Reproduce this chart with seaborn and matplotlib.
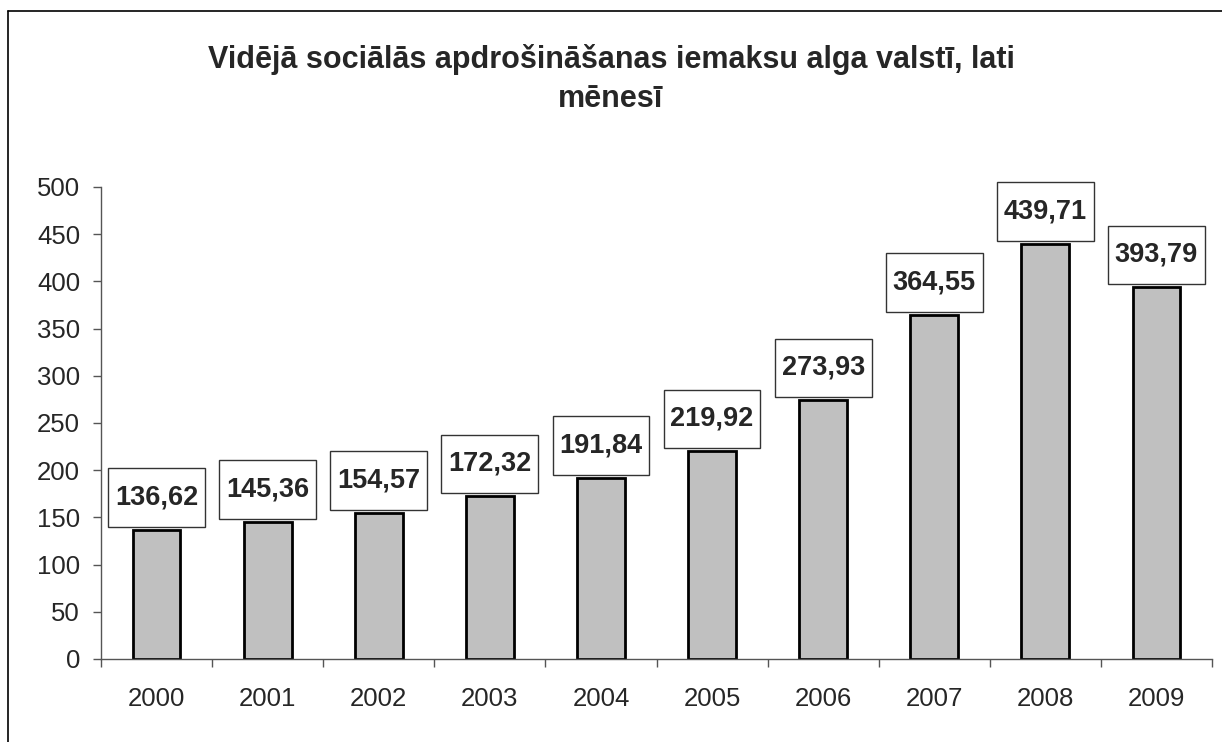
import matplotlib
matplotlib.use("Agg")
import matplotlib.pyplot as plt
import seaborn as sns
from matplotlib.lines import Line2D

# Data
years = ["2000", "2001", "2002", "2003", "2004", "2005", "2006", "2007", "2008", "2009"]
wages = [136.62, 145.36, 154.57, 172.32, 191.84, 219.92, 273.93, 364.55, 439.71, 393.79]
y_ticks = [0, 50, 100, 150, 200, 250, 300, 350, 400, 450, 500]
title = "Vidējā sociālās apdrošināšanas iemaksu alga valstī, lati\nmēnesī"

sns.set_style("white")
plt.rcParams["font.family"] = ["Liberation Sans", "DejaVu Sans"]

fig = plt.figure(figsize=(12.22, 7.42), dpi=100)
ax = fig.add_axes([101 / 1222, 83 / 742, 1111 / 1222, 472 / 742])

sns.barplot(x=years, y=wages, color="#C0C0C0", saturation=1, width=0.43,
            edgecolor="black", linewidth=2, ax=ax)

# value labels in white boxes (taller than wide padding)
labels = [f"{v:.2f}".replace(".", ",") for v in wages]
ax.bar_label(ax.containers[0], labels=labels, padding=14, fontsize=19.5,
             fontweight="bold",
             bbox=dict(boxstyle="square,pad=0.25", mutation_aspect=2.4,
                       facecolor="white", edgecolor="#333333", linewidth=1))

ax.set_ylim(0, 500)
ax.set_xlim(-0.5, len(years) - 0.5)
ax.set_yticks(y_ticks)
ax.set_xlabel("")
ax.set_ylabel("")

# spines: only left and bottom
for side in ["top", "right"]:
    ax.spines[side].set_visible(False)
for side in ["left", "bottom"]:
    ax.spines[side].set_color("#555555")
    ax.spines[side].set_linewidth(1)

ax.tick_params(axis="y", direction="out", length=6, width=1, color="#555555",
               labelsize=18.5, pad=9, left=True)
ax.tick_params(axis="x", which="major", length=0, labelsize=18.5, pad=20)
ax.set_xticks([i + 0.5 for i in range(-1, len(years))], minor=True)
ax.tick_params(axis="x", which="minor", direction="out", length=6, width=1,
               color="#555555", bottom=True)

fig.text(0.5, 1 - 79 / 742, title, ha="center", va="center", fontsize=22,
         fontweight="bold", linespacing=1.35)

# outer frame (top and left visible)
fig.add_artist(Line2D([8 / 1222, 1], [1 - 11 / 742, 1 - 11 / 742],
                      transform=fig.transFigure, color="black", linewidth=1.2))
fig.add_artist(Line2D([8 / 1222, 8 / 1222], [0, 1 - 11 / 742],
                      transform=fig.transFigure, color="black", linewidth=1.2))

fig.savefig("out.png", dpi=100)
